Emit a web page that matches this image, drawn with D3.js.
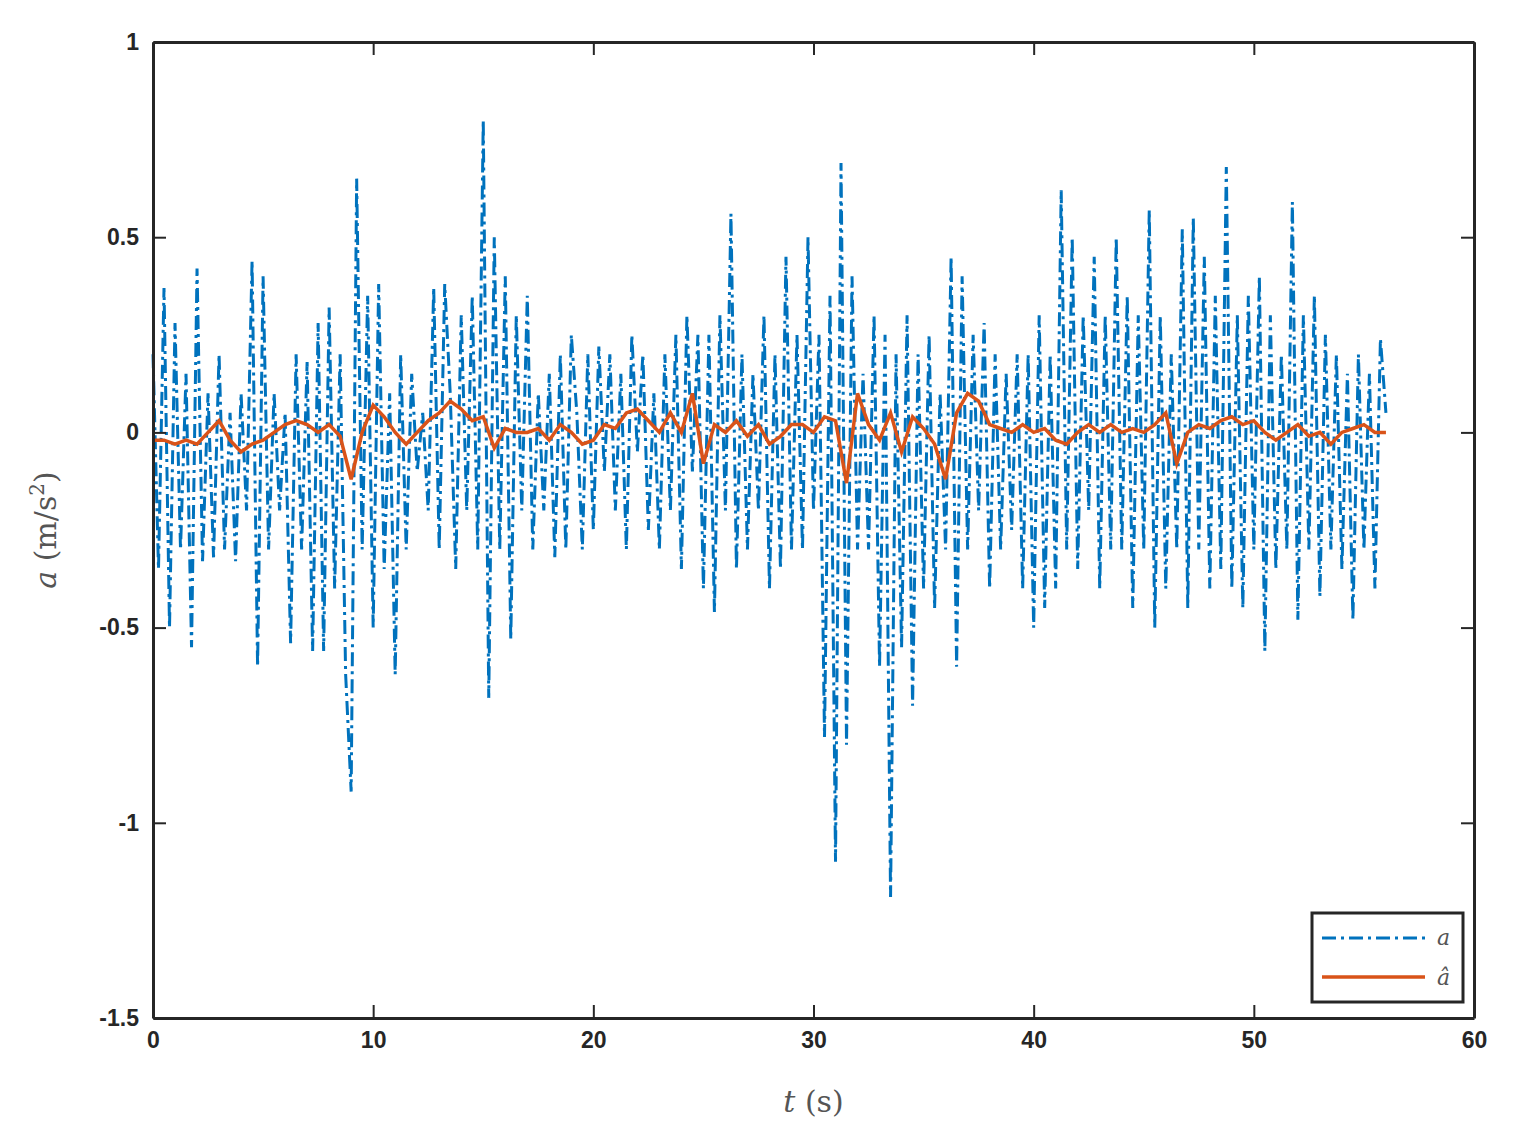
<!DOCTYPE html>
<html><head><meta charset="utf-8">
<script src="https://cdn.jsdelivr.net/npm/d3@7"></script>
<style>body{margin:0;background:#fff}</style></head><body>
<svg id="c" width="1515" height="1146"></svg>
<script>
const aStep = 0.25;
const aValues = [
0.2,-0.35,0.37,-0.5,0.28,-0.3,0.15,-0.55,0.42,-0.33,0.1,-0.32,0.2,-0.3,0.05,-0.33,0.1,-0.2,0.44,-0.6,
0.4,-0.3,0.1,-0.2,0.05,-0.54,0.2,-0.3,0.18,-0.56,0.28,-0.56,0.32,-0.4,0.2,-0.62,-0.92,0.65,-0.3,0.35,
-0.5,0.38,-0.35,0.1,-0.62,0.2,-0.3,0.15,-0.1,0.05,-0.2,0.37,-0.3,0.38,0.1,-0.35,0.3,-0.2,0.35,-0.3,
0.8,-0.68,0.5,-0.3,0.4,-0.53,0.3,-0.2,0.35,-0.3,0.1,-0.2,0.15,-0.32,0.2,-0.3,0.25,0.05,-0.3,0.2,
-0.25,0.22,-0.1,0.2,-0.2,0.15,-0.3,0.25,-0.05,0.2,-0.25,0.1,-0.3,0.2,-0.2,0.25,-0.35,0.3,-0.1,0.25,
-0.4,0.25,-0.46,0.3,-0.2,0.56,-0.35,0.2,-0.3,0.15,-0.2,0.3,-0.4,0.2,-0.35,0.45,-0.3,0.25,-0.3,0.5,
-0.2,0.25,-0.78,0.35,-1.1,0.69,-0.8,0.4,-0.3,0.15,-0.3,0.3,-0.6,0.25,-1.19,0.2,-0.55,0.3,-0.7,0.2,
-0.4,0.25,-0.45,0.1,-0.3,0.45,-0.6,0.4,-0.3,0.25,-0.2,0.28,-0.4,0.2,-0.3,0.15,-0.25,0.2,-0.4,0.2,
-0.5,0.3,-0.45,0.2,-0.4,0.62,-0.3,0.5,-0.35,0.3,-0.2,0.45,-0.4,0.3,-0.3,0.5,-0.3,0.35,-0.45,0.3,
-0.3,0.57,-0.5,0.3,-0.4,0.2,-0.3,0.52,-0.45,0.55,-0.3,0.45,-0.4,0.35,-0.35,0.68,-0.4,0.3,-0.45,0.35,
-0.3,0.4,-0.56,0.3,-0.35,0.2,-0.3,0.59,-0.48,0.3,-0.3,0.35,-0.42,0.25,-0.3,0.2,-0.35,0.15,-0.48,0.2,
-0.3,0.15,-0.4,0.24,0.05];
const hatStep = 0.5;
const hatValues = [
-0.02,-0.02,-0.03,-0.02,-0.03,0.0,0.03,-0.02,-0.05,-0.03,-0.02,0.0,0.02,0.03,0.02,0.0,0.02,-0.01,-0.12,0.0,
0.07,0.04,0.0,-0.03,0.0,0.03,0.05,0.08,0.06,0.03,0.04,-0.04,0.01,0.0,0.0,0.01,-0.02,0.02,0.0,-0.03,
-0.02,0.02,0.01,0.05,0.06,0.03,0.0,0.05,0.0,0.1,-0.08,0.02,0.0,0.03,-0.01,0.02,-0.03,-0.01,0.02,0.02,
0.0,0.04,0.03,-0.13,0.1,0.02,-0.02,0.05,-0.05,0.04,0.01,-0.03,-0.12,0.05,0.1,0.08,0.02,0.01,0.0,0.02,
0.0,0.01,-0.02,-0.03,0.0,0.02,0.0,0.02,0.0,0.01,0.0,0.02,0.05,-0.08,0.0,0.02,0.01,0.03,0.04,0.02,
0.03,0.0,-0.02,0.0,0.02,-0.01,0.0,-0.03,0.0,0.01,0.02,0.0,0.0];
const xTicks=[0,10,20,30,40,50,60];
const yTicks=[1,0.5,0,-0.5,-1,-1.5];

const svg=d3.select('#c');
const L=153,R=1474,T=42,B=1018;
const x=d3.scaleLinear().domain([0,60]).range([L,R]);
const y=d3.scaleLinear().domain([-1.5,1]).range([B,T]);
const aData=aValues.map((v,i)=>[i*aStep,v]);
const hData=hatValues.map((v,i)=>[i*hatStep,v]);
const line=d3.line().x(d=>x(d[0])).y(d=>y(d[1]));
svg.append('path').datum(aData).attr('d',line).attr('fill','none').attr('stroke','#0072BD')
 .attr('stroke-width',3).attr('stroke-dasharray','14,5,3,5');
svg.append('path').datum(hData).attr('d',line).attr('fill','none').attr('stroke','#D95319')
 .attr('stroke-width',3.5);
const tf=d=>String(d);
const ax=[
 [d3.axisBottom(x).tickValues(xTicks).tickFormat(tf),`translate(0,${B})`],
 [d3.axisTop(x).tickValues(xTicks).tickFormat(''),`translate(0,${T})`],
 [d3.axisLeft(y).tickValues(yTicks).tickFormat(tf),`translate(${L},0)`],
 [d3.axisRight(y).tickValues(yTicks).tickFormat(''),`translate(${R},0)`]];
ax.forEach(([a,t])=>{
 const g=svg.append('g').attr('transform',t).call(a.tickSizeInner(-13).tickSizeOuter(0).tickPadding(14));
 g.select('.domain').attr('stroke','#262626').attr('stroke-width',3);
 g.selectAll('.tick line').attr('stroke','#262626').attr('stroke-width',2);
 g.selectAll('text').attr('font-family','Liberation Sans, Arial').attr('font-weight','bold')
  .attr('font-size',23).attr('fill','#262626');
});
svg.append('text').attr('x',x(30)).attr('y',1112).attr('text-anchor','middle')
 .attr('font-family','DejaVu Serif, serif').attr('font-size',30).attr('fill','#555')
 .html('<tspan font-style="italic">t</tspan> (s)');
svg.append('text').attr('transform','translate(56,530) rotate(-90)').attr('text-anchor','middle')
 .attr('font-family','DejaVu Serif, serif').attr('font-size',30).attr('fill','#555')
 .html('<tspan font-style="italic">a</tspan> (m/s<tspan baseline-shift="super" font-size="20">2</tspan>)');
const lg=svg.append('g');
lg.append('rect').attr('x',1312).attr('y',913).attr('width',151).attr('height',89)
 .attr('fill','#fff').attr('stroke','#262626').attr('stroke-width',3);
lg.append('line').attr('x1',1322).attr('x2',1425).attr('y1',938).attr('y2',938)
 .attr('stroke','#0072BD').attr('stroke-width',3).attr('stroke-dasharray','14,5,3,5');
lg.append('line').attr('x1',1322).attr('x2',1425).attr('y1',977).attr('y2',977)
 .attr('stroke','#D95319').attr('stroke-width',3.5);
lg.append('text').attr('x',1437).attr('y',945).attr('font-family','DejaVu Serif, serif')
 .attr('font-style','italic').attr('font-size',22).attr('fill','#555').text('a');
lg.append('text').attr('x',1437).attr('y',985).attr('font-family','DejaVu Serif, serif')
 .attr('font-style','italic').attr('font-size',22).attr('fill','#555').text('â');
</script></body></html>
